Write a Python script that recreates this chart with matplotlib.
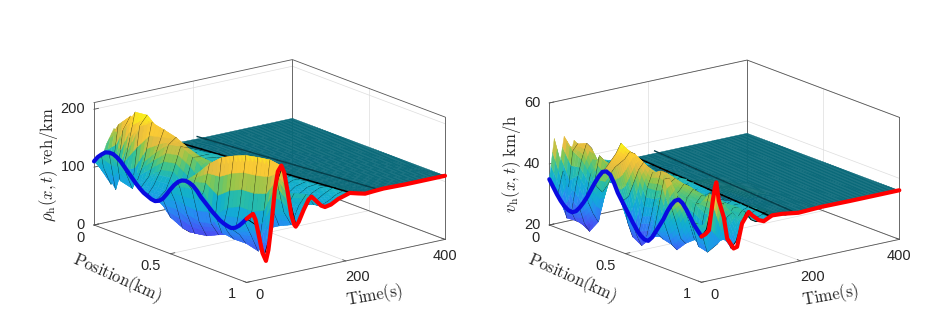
import numpy as np
import matplotlib
matplotlib.use("Agg")
import matplotlib.pyplot as plt
from matplotlib.colors import LinearSegmentedColormap, Normalize
from mpl_toolkits.mplot3d import proj3d
from mpl_toolkits.mplot3d.art3d import Poly3DCollection

plt.rcParams["font.family"] = ["Liberation Sans", "DejaVu Sans"]
plt.rcParams["mathtext.fontset"] = "cm"

W, H = 947, 332

position_km = [0, .05, .1, .15, .2, .25, .3, .35, .4, .45, .5, .55, .6, .65, .7, .75, .8, .85, .9, .95, 1]

# values. one row per position. the columns follow the wave
# fronts: a column is the time u + slope*position, cut off at 0 and 400 s
density_u = [-180, -160, -145, -132, -120, -108, -95, -80, -65, -50, -35, -20, -5, 10, 25, 40, 60, 80, 110, 150, 220, 400]
density_slope = 180
density = [
    [110, 110, 110, 110, 110, 110, 110, 110, 110, 110, 110, 110, 110, 100, 135, 159, 111, 87, 108, 111, 110, 110],
    [127, 127, 127, 127, 127, 127, 127, 127, 127, 127, 127, 127, 105, 72, 172, 153, 97, 89, 115, 112, 110, 110],
    [135, 135, 135, 135, 135, 135, 135, 135, 135, 135, 135, 135, 69, 168, 190, 135, 92, 92, 120, 108, 110, 110],
    [132, 132, 132, 132, 132, 132, 132, 132, 132, 132, 132, 90, 140, 203, 175, 115, 86, 100, 123, 108, 110, 110],
    [120, 120, 120, 120, 120, 120, 120, 120, 120, 120, 115, 80, 185, 201, 145, 100, 88, 108, 118, 108, 110, 110],
    [106, 106, 106, 106, 106, 106, 106, 106, 106, 106, 97, 130, 194, 178, 125, 95, 92, 118, 118, 109, 110, 110],
    [93, 93, 93, 93, 93, 93, 93, 93, 93, 95, 110, 150, 185, 165, 125, 95, 92, 120, 116, 109, 110, 110],
    [85, 85, 85, 85, 85, 85, 85, 85, 85, 100, 125, 165, 175, 150, 115, 92, 98, 120, 112, 109, 110, 110],
    [81, 81, 81, 81, 81, 81, 81, 81, 84, 95, 125, 165, 160, 125, 95, 92, 112, 118, 110, 109, 110, 110],
    [90, 90, 90, 90, 90, 90, 90, 89, 55, 45, 105, 150, 148, 115, 92, 100, 115, 116, 110, 109, 110, 110],
    [111, 111, 111, 111, 111, 111, 111, 90, 40, 30, 70, 130, 142, 115, 92, 98, 112, 116, 110, 109, 110, 110],
    [129, 129, 129, 129, 129, 129, 120, 70, 34, 30, 75, 125, 130, 108, 92, 98, 110, 114, 110, 110, 110, 110],
    [136, 136, 136, 136, 136, 136, 120, 60, 33, 38, 90, 125, 120, 100, 92, 100, 110, 112, 110, 110, 110, 110],
    [132, 132, 132, 132, 132, 152, 125, 60, 38, 55, 105, 122, 108, 95, 92, 102, 110, 112, 110, 110, 110, 110],
    [118, 118, 118, 118, 125, 172, 145, 80, 42, 65, 110, 118, 102, 92, 94, 105, 112, 111, 110, 110, 110, 110],
    [106, 106, 106, 92, 90, 186, 150, 85, 48, 75, 112, 115, 98, 92, 98, 108, 112, 110, 110, 110, 110, 110],
    [95, 95, 95, 64, 105, 192, 160, 90, 55, 85, 115, 110, 95, 92, 102, 110, 112, 110, 110, 110, 110, 110],
    [87, 87, 72, 56, 110, 196, 165, 95, 62, 92, 118, 108, 94, 96, 106, 112, 112, 110, 110, 110, 110, 110],
    [84, 82, 70, 52, 105, 196, 170, 105, 70, 98, 120, 104, 96, 100, 108, 114, 112, 110, 110, 110, 110, 110],
    [93, 100, 70, 42, 110, 195, 160, 100, 75, 105, 122, 102, 97, 102, 110, 114, 110, 110, 110, 110, 110, 110],
    [110, 95, 38, 75, 159, 187, 135, 79, 104, 124, 108, 101, 105, 110, 116, 112, 109, 110, 110, 110, 110, 110],
]
density_red_t = [0, 8, 13, 18, 25, 32, 39, 44, 50, 57, 63, 70, 76, 83, 90, 96, 99, 105, 115, 125, 131, 140, 150, 158, 170, 185, 208, 225, 239, 255, 276, 320, 360, 400]
density_red = [110, 114, 116, 105, 75, 45, 30, 48, 90, 150, 180, 189, 175, 140, 100, 82, 78, 85, 104, 120, 124, 115, 105, 101, 103, 110, 116, 112, 109, 110, 111, 110, 110, 110]

speed_u = [-50, -40, -30, -20, -10, 0, 10, 20, 30, 40, 50, 60, 70, 85, 100, 120, 150, 200, 400]
speed_slope = 50
speed = [
    [35, 35, 35, 35, 35, 35, 48, 38, 48, 40, 46, 42, 35, 33, 38, 37, 36, 36, 36],
    [31, 31, 31, 31, 31, 31, 38, 30, 44, 46, 44, 38, 34, 34, 38, 36, 36, 36, 36],
    [28, 28, 28, 28, 28, 24, 26, 35, 42, 47, 45, 38, 34, 35, 38, 36, 36, 36, 36],
    [27, 27, 27, 27, 27, 24, 23, 30, 38, 40, 40, 38, 34, 35, 38, 36, 36, 36, 36],
    [29.5, 29.5, 29.5, 29.5, 29.5, 24, 21, 36, 45, 43, 41, 36, 34, 36, 38, 36, 35, 36, 36],
    [34, 34, 34, 34, 32, 28, 25, 34, 42, 42, 40, 36, 35, 36, 38, 37, 36, 36, 36],
    [39.5, 39.5, 39.5, 39.5, 38, 36, 38, 41, 44, 44, 41, 37, 35, 35, 37, 38, 36, 36, 36],
    [44, 44, 44, 44, 45, 47, 49, 52, 49, 44, 39, 36, 35, 35, 37, 38, 36, 36, 36],
    [44, 44, 44, 44, 46, 47, 48, 50, 49, 44, 38, 36, 37, 35, 36, 38, 36, 36, 36],
    [39, 39, 39, 38, 36, 37, 41, 45, 47, 45, 39, 36, 38, 37, 35, 37, 37, 36, 36],
    [35, 35, 35, 30, 25, 24, 31, 40, 44.5, 44, 40, 36, 39, 38, 35, 36, 37, 36, 36],
    [31, 31, 31, 27, 23, 25, 32, 40, 46, 45, 40, 37, 39, 39, 36, 35, 37, 36, 36],
    [27.8, 27.8, 27.8, 26, 26, 31, 36, 41, 43, 44, 40, 37, 38, 38, 35, 36, 37, 36, 36],
    [27, 27, 27, 30, 38, 46, 46, 40, 41, 43, 42, 38, 36, 38, 36, 35, 37, 36, 36],
    [31, 31, 30, 28, 30, 38, 41, 39, 40, 42, 41, 38, 36, 37, 36, 35, 37, 36, 36],
    [36, 36, 32, 27, 25, 34, 41, 38, 39, 41, 40, 37, 36, 36, 37, 35, 36, 36, 36],
    [41.5, 41.5, 36, 30, 28, 32, 40, 40, 38, 40, 41, 38, 36, 37, 37, 36, 36, 36, 36],
    [44.3, 44, 41, 36, 30, 30, 38, 44, 40, 38, 40, 39, 36, 36, 37, 36, 36, 36, 36],
    [42, 40, 35, 29, 28, 30, 38, 42, 41, 37, 39, 39, 36, 36, 37, 36, 36, 36, 36],
    [38, 38, 34, 28, 29, 30, 33, 38, 39, 37, 39, 38, 36, 36, 37, 36, 36, 36, 36],
    [35, 37, 44, 51.7, 43, 34, 29, 31, 36, 39.7, 37, 36, 36, 36, 37, 36, 36, 36, 36],
]
speed_red_t = [0, 8, 15, 23, 27, 30, 35, 45, 52, 65, 72, 82, 95.5, 102, 116, 126, 136, 143, 163, 196, 243, 300, 350, 400]
speed_red = [35, 35.5, 36.5, 46, 50, 51.7, 45.6, 39.8, 32.5, 28.8, 29.1, 36.4, 39.7, 38.4, 36.3, 35.6, 36.4, 36.9, 36.7, 35.9, 36.2, 36.1, 36.1, 36.1]

# blue edge at t = 0, read at a finer position step
blue_pos = [0, .025, .05, .075, .1, .125, .15, .175, .2, .225, .25, .275, .3, .325, .35, .375, .4, .425, .45, .475, .5,
            .525, .55, .575, .6, .625, .65, .675, .7, .725, .75, .775, .8, .825, .85, .875, .9, .925, .95, .975, 1]
density_blue = [110, 120, 127, 133, 135, 135, 132, 127, 120, 113, 106, 99, 93, 88, 85, 82, 81, 84, 90, 100, 111,
                121, 129, 134, 136, 135, 132, 126, 118, 112, 106, 100, 95, 90, 87, 85, 84, 87, 93, 101, 110]
speed_blue = [35, 33, 31, 29.3, 28, 27.2, 27, 27.8, 29.5, 31.6, 34, 36.8, 39.5, 42, 44, 44.6, 44, 41.8, 39, 37, 35,
              33, 31, 29.2, 27.8, 27, 27, 28.6, 31, 33.5, 36, 39, 41.5, 43.4, 44.3, 43.6, 42, 40, 38, 36.5, 35]

time_ticks = [0, 200, 400]
pos_ticks = [0, 0.5, 1]
pos_labels = ["0", "0.5", "1"]
density_ticks = [0, 100, 200]
speed_ticks = [20, 40, 60]

parula = LinearSegmentedColormap.from_list("parula", [
    (0.00, (0.2422, 0.1504, 0.6603)), (0.12, (0.2810, 0.3228, 0.9579)), (0.30, (0.15, 0.55, 0.95)),
    (0.40, (0.08, 0.65, 0.87)), (0.50, (0.07, 0.69, 0.80)), (0.60, (0.20, 0.76, 0.60)),
    (0.70, (0.55, 0.78, 0.30)), (0.80, (0.90, 0.74, 0.25)), (0.90, (0.99, 0.80, 0.20)),
    (1.00, (0.9769, 0.9839, 0.0805))])


def to_px(ax, t, p, z):
    x, y, _ = proj3d.proj_transform(t, p, z, ax.get_proj())
    return ax.transData.transform((x, y))


def fit_box(ax, left_floor, right_floor, z0):
    side = 500.0
    ax.set_position([0.1, 0.1, side / W, side / H])
    ax.apply_aspect()
    tmax = ax.get_xlim()[1]
    a = to_px(ax, 0, 0, z0)
    b = to_px(ax, tmax, 1, z0)
    side = side * (right_floor[0] - left_floor[0]) / (b[0] - a[0])
    ax.set_position([0.1, 0.1, side / W, side / H])
    ax.apply_aspect()
    a = to_px(ax, 0, 0, z0)
    # px from the top of the picture, matplotlib counts from the bottom
    dx = left_floor[0] - a[0]
    dy = (H - left_floor[1]) - a[1]
    ax.set_position([0.1 + dx / W, 0.1 + dy / H, side / W, side / H])
    ax.apply_aspect()


def put_text(s, x, y, **kw):
    fig.text(x / W, 1 - y / H, s, **kw)


def panel(ax, table, u, slope, red_t, red_z, blue_z, zlim, zticks, zlabel, left_floor, right_floor, zlab_x, sheet, clim):
    z = np.array(table, dtype=float)
    p = np.array(position_km, dtype=float)
    tmax, z0, z1 = 400, zlim[0], zlim[1]
    t = np.clip(np.array(u, dtype=float) + slope * p[:, None], 0, tmax)

    ax.computed_zorder = False
    ax.set_axis_off()
    ax.set_facecolor("none")
    ax.set_xlim(0, tmax)
    ax.set_ylim(1, 0)
    ax.set_zlim(z0, z1)
    ax.set_proj_type("ortho")
    ax.view_init(elev=16.6, azim=-127.2)
    ax.set_box_aspect((747, 757, 383), zoom=1)
    fit_box(ax, left_floor, right_floor, z0)

    # back walls, floor and the outer box
    wall = dict(color="#dddddd", lw=0.5, zorder=1)
    edge = dict(color="#555555", lw=0.6, zorder=1.5)
    for v in zticks:
        ax.plot([0, tmax], [0, 0], [v, v], **wall)
        ax.plot([tmax, tmax], [0, 1], [v, v], **wall)
    for v in time_ticks:
        ax.plot([v, v], [0, 0], [z0, z1], **wall)
        ax.plot([v, v], [0, 1], [z0, z0], **wall)
    for v in pos_ticks:
        ax.plot([tmax, tmax], [v, v], [z0, z1], **wall)
        ax.plot([0, tmax], [v, v], [z0, z0], **wall)
    ax.plot([0, tmax, tmax], [0, 0, 1], [z1, z1, z1], **edge)
    ax.plot([0, tmax, tmax], [0, 0, 1], [z0, z0, z0], **edge)
    ax.plot([0, 0, tmax], [0, 1, 1], [z0, z0, z0], **edge)
    ax.plot([0, 0], [0, 0], [z0, z1], **edge)
    ax.plot([tmax, tmax], [0, 0], [z0, z1], **edge)
    ax.plot([tmax, tmax], [1, 1], [z0, z1], **edge)
    for v in zticks:
        ax.plot([0, 9], [0, 0], [v, v], **edge)
    for v in time_ticks:
        ax.plot([v, v], [1, 0.98], [z0, z0], **edge)
    for v in pos_ticks:
        ax.plot([0, 9], [v, v], [z0, z0], **edge)

    # surface. strips are painted from the far position to the near one, each
    # read facet gets a colour gradient (like shading interp), its corners stay on the table
    norm = Normalize(clim[0], clim[1])
    n = 3
    w = np.linspace(0, 1, n + 1)
    flat = z[0, -1] + 0.02 * (z1 - z0)
    for i in range(len(p) - 1):
        verts, faces = [], []
        for j in range(len(u) - 1):
            if t[i, j] == t[i, j + 1] and t[i + 1, j] == t[i + 1, j + 1]:
                continue
            for a0, a1 in zip(w[:-1], w[1:]):
                for b0, b1 in zip(w[:-1], w[1:]):
                    q = []
                    for a, b in [(a0, b0), (a1, b0), (a1, b1), (a0, b1)]:
                        ti = (1 - a) * ((1 - b) * t[i, j] + b * t[i, j + 1]) + a * ((1 - b) * t[i + 1, j] + b * t[i + 1, j + 1])
                        pi = (1 - a) * p[i] + a * p[i + 1]
                        zi = (1 - a) * ((1 - b) * z[i, j] + b * z[i, j + 1]) + a * ((1 - b) * z[i + 1, j] + b * z[i + 1, j + 1])
                        q.append((ti, pi, zi))
                    q = np.array(q)
                    c = np.array(parula(norm(q[:, 2].mean())))
                    if q[:, 0].mean() > sheet[0] + sheet[1] * q[:, 1].mean():
                        c[:3] *= 0.6
                    verts.append(q)
                    faces.append(c)
        surf = Poly3DCollection(verts, facecolors=faces, edgecolors=faces, linewidths=0.3)
        surf.set_zorder(2 + i * 0.02)
        ax.add_collection3d(surf)
        # black mesh line on the near side of the strip
        keep = t[i + 1] <= sheet[0] + sheet[1] * p[i + 1] + 10
        ax.plot(t[i + 1][keep], np.full(keep.sum(), p[i + 1]), z[i + 1][keep], color="black", lw=0.6, zorder=2.01 + i * 0.02)
        # dark band where the waves run out into the flat part
        ends = [sheet[0] + sheet[1] * p[i], sheet[0] + sheet[1] * p[i + 1]]
        ax.plot(ends, p[i:i + 2], [flat, flat], color="black", lw=1.1, zorder=2.015 + i * 0.02)
        ax.plot([e + 45 for e in ends], p[i:i + 2], [flat, flat], color="#06404c", lw=1.0, zorder=2.015 + i * 0.02)

    # front edges of the surface
    ax.plot(np.zeros(len(blue_pos)), blue_pos, blue_z, color="#0a0ae0", lw=3, zorder=3, solid_capstyle="round")
    ax.plot(red_t, np.ones(len(red_t)), red_z, color="#ff0000", lw=3, zorder=3.1, solid_capstyle="round")

    # tick labels and axis labels
    for v in zticks:
        x, y = to_px(ax, 0, 0, v)
        put_text(str(v), x - 9, H - y, ha="right", va="center", fontsize=10.5, color="#262626")
    for v, s, off in zip(pos_ticks, pos_labels, [(-14, 13), (-20, 12), (-15, 12)]):
        x, y = to_px(ax, 0, v, z0)
        put_text(s, x + off[0], H - y + off[1], ha="center", va="center", fontsize=10.5, color="#262626")
    for v, off in zip(time_ticks, [(13, 13), (12, 16), (0, 17)]):
        x, y = to_px(ax, v, 1, z0)
        put_text(str(v), x + off[0], H - y + off[1], ha="center", va="center", fontsize=10.5, color="#262626")
    x, y = to_px(ax, 0, 0, z0)
    put_text(r"$\mathrm{Position(km)}$", x + 23, H - y + 53, ha="center", va="center",
             rotation=-24, rotation_mode="anchor", fontsize=12, color="#262626")
    put_text(r"$\mathrm{Time(s)}$", x + 281, H - y + 71, ha="center", va="center",
             rotation=10, rotation_mode="anchor", fontsize=12, color="#262626")
    put_text(zlabel, zlab_x, 164, ha="center", va="center", rotation=90, fontsize=12, color="#262626")


fig = plt.figure(figsize=(W / 100, H / 100), dpi=100)
ax1 = fig.add_subplot(121, projection="3d")
ax2 = fig.add_subplot(122, projection="3d")
panel(ax1, density, density_u, density_slope, density_red_t, density_red, density_blue, (0, 211.5), density_ticks,
      r"$\rho_{\mathrm{h}}(x,t)\ \mathrm{veh/km}$", (94, 225), (445, 239.3), 49, (163, 51), (17, 203))
panel(ax2, speed, speed_u, speed_slope, speed_red_t, speed_red, speed_blue, (20, 60), speed_ticks,
      r"$v_{\mathrm{h}}(x,t)\ \mathrm{km/h}$", (549.3, 225), (899.3, 239.3), 511, (168, -29), (20, 52))
fig.savefig("out.png", dpi=100)
